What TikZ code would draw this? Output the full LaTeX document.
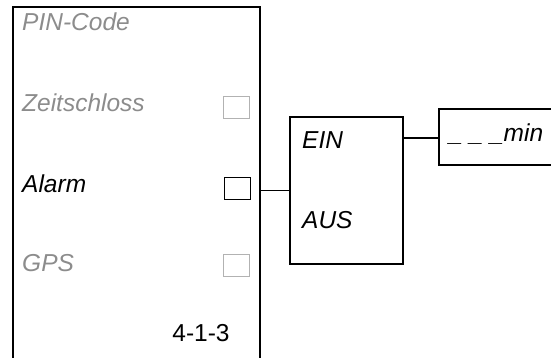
\documentclass[tikz,border=0pt]{standalone}
\usepackage{fontspec}
\setmainfont{Liberation Sans}
\usepackage{tikz}

\definecolor{dimtext}{gray}{0.55}
\definecolor{dimbox}{gray}{0.7}

\begin{document}
\begin{tikzpicture}[x=1pt,y=-1pt]
    \tikzset{Label/.style={anchor=base west, inner sep=0pt,
            font=\fontsize{24.5}{29}\selectfont\itshape},
        Dim/.style={text=dimtext},
        CheckBox/.style={draw, line width=1pt, inner sep=0pt,
            minimum width=26pt, minimum height=22pt},
        Frame/.style={line width=1.1pt}}
    \useasboundingbox (0,0) rectangle (551,358);
    % menu panel, open at the bottom
    \draw[Frame] (13,358) -- (13,7) -- (260,7) -- (260,358);
    \node[Label,Dim] (pin) at (22,30.5) {PIN-Code};
    \node[Label,Dim] (zeit) at (22,111.5) {Zeitschloss};
    \node[Label] (alarm) at (22,193) {Alarm};
    \node[Label,Dim] (gps) at (22,271.5) {GPS};
    \node[Label, anchor=base, font=\fontsize{24.5}{29}\selectfont] (code) at (201,341.5) {4-1-3};
    \node[CheckBox, draw=dimbox] (boxZeit) at (236,107.5) {};
    \node[CheckBox] (boxAlarm) at (237,188.5) {};
    \node[CheckBox, draw=dimbox] (boxGPS) at (236,265) {};
    % switch box
    \node[draw, Frame, inner sep=0pt, minimum width=113pt, minimum height=147pt] (switch) at (346.5,190.5) {};
    \node[Label] (ein) at (302,148.5) {EIN};
    \node[Label] (aus) at (302,228.5) {AUS};
    \coordinate (panelR) at (260,190.5);
    \draw[Frame] (panelR) -- (switch.west);
    % timer box, open to the right
    \coordinate (timerTop) at (439,109);
    \coordinate (timerIn) at (439,138);
    \coordinate (timerBot) at (439,165);
    \draw[Frame] (551,109) -- (timerTop) -- (timerBot) -- (551,165);
    \node[Label] (timer) at (449,142) {\_ \_ \_min};
    \draw[Frame] (switch.east |- timerIn) -- (timerIn);
\end{tikzpicture}
\end{document}
